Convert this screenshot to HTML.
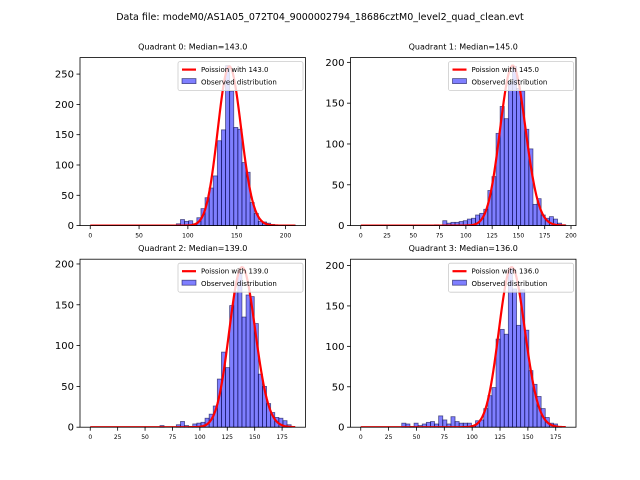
<!DOCTYPE html>
<html><head><meta charset="utf-8"><style>
body{margin:0;background:#fff}
svg{display:block;font-family:"DejaVu Sans","Liberation Sans",sans-serif}
</style></head><body>
<svg id="fig" width="640" height="480" viewBox="0 0 640 480">
<text x="320" y="20" text-anchor="middle" font-size="9.5">Data file: modeM0/AS1A05_072T04_9000002794_18686cztM0_level2_quad_clean.evt</text>
</svg>
<script>
// data
const quadMedians = [143.0, 145.0, 139.0, 136.0];
const quadDataMax = [210, 195, 187, 184];
const quadTotals = [1875, 1518, 1550, 1573];
const countsQ0 = [0,0,0,0,0,0,0,0,0,0,0,0,0,0,0,0,0,1,0,1,0,3,10,7,8,3,13,28,46,62,82,140,158,264,222,162,159,104,88,38,20,7,6,4,2,1,1,1,1,1];
const countsQ1 = [0,0,0,0,0,0,0,0,0,0,0,0,0,0,0,0,0,0,1,0,6,3,4,4,5,6,8,9,13,15,20,43,60,113,146,131,176,195,168,165,118,94,26,33,13,9,11,8,3,1];
const countsQ2 = [0,0,0,0,0,0,0,0,0,0,0,0,0,0,0,0,0,2,0,0,0,3,7,2,1,4,5,6,11,16,26,59,92,73,149,166,190,135,162,160,127,65,50,29,18,12,11,8,3,0];
const countsQ3 = [0,0,0,0,0,0,0,0,0,0,5,4,1,5,2,4,6,7,4,14,9,4,13,7,5,5,5,2,8,9,23,39,49,109,121,115,197,171,126,170,120,70,53,38,23,12,5,4,1,0];
const quadCounts = [countsQ0, countsQ1, countsQ2, countsQ3];
const yTicksQ0 = [0,50,100,150,200,250];
const yTicksOther = [0,50,100,150,200];
const xTicksQ0 = [0,50,100,150,200];
const xTicksQ1 = [0,25,50,75,100,125,150,175,200];
const xTicksQ23 = [0,25,50,75,100,125,150,175];
const quadXTicks = [xTicksQ0, xTicksQ1, xTicksQ23, xTicksQ23];
const quadYTicks = [yTicksQ0, yTicksOther, yTicksOther, yTicksOther];

const NS = "http://www.w3.org/2000/svg";
const svg = document.getElementById('fig');
function mk(tag, attrs, parent){
  const e = document.createElementNS(NS, tag);
  for (const k in attrs) e.setAttribute(k, attrs[k]);
  (parent||svg).appendChild(e);
  return e;
}
const boxes = [[80,57.6,225.5,168],[350.5,57.6,225.5,168],[80,259.2,225.5,168],[350.5,259.2,225.5,168]];

function logFact(n){let s=0;for(let i=2;i<=n;i++)s+=Math.log(i);return s;}

for (let q=0;q<4;q++){
  const [L,T,W,H] = boxes[q];
  const counts = quadCounts[q];
  const M = quadDataMax[q], mu = quadMedians[q], nb = counts.length, bw = M/nb;
  const xmin = -0.05*M, xmax = 1.05*M;
  const pts = [];
  for (let k=0;k<=Math.round(M);k++){
    const p = Math.exp(k*Math.log(mu) - mu - logFact(k));
    pts.push([k, p*quadTotals[q]*bw]);
  }
  const peak = Math.max(Math.max(...counts), Math.max(...pts.map(p=>p[1])));
  const ymax = 1.05*peak;
  const sx = v => L + (v - xmin)/(xmax - xmin)*W;
  const sy = v => T + H - v/ymax*H;
  const g = mk('g', {});
  
  
  const clipId = 'clip'+q;
  const cp = mk('clipPath',{id:clipId},g);
  mk('rect',{x:L,y:T,width:W,height:H},cp);
  for (let i=0;i<nb;i++){
    if (counts[i] <= 0) continue;
    const x0 = sx(i*bw), x1 = sx((i+1)*bw);
    const r = mk('rect',{x:x0,y:sy(counts[i]),width:x1-x0,height:sy(0)-sy(counts[i]),fill:'rgba(0,0,255,0.5)',stroke:'rgba(0,0,60,0.6)','stroke-width':0.8},g);
    
    
  }
  const d = pts.map((p,i)=>(i?'L':'M')+sx(p[0]).toFixed(2)+','+sy(p[1]).toFixed(2)).join('');
  const path = mk('path',{d:d,fill:'none',stroke:'#ff0000','stroke-width':2.2,'clip-path':'url(#'+clipId+')'},g);
  
  
  const sp = mk('rect',{x:L,y:T,width:W,height:H,fill:'none',stroke:'#000','stroke-width':0.8},g);
  
  
  for (const t of quadXTicks[q]){
    const x = sx(t);
    mk('line',{x1:x,x2:x,y1:T+H,y2:T+H+3.5,stroke:'#000','stroke-width':0.8},g);
    const tx = mk('text',{x:x,y:T+H+12,'text-anchor':'middle','font-size':6},g);
    tx.textContent = t;
    
    
  }
  for (const t of quadYTicks[q]){
    const y = sy(t);
    mk('line',{x1:L-3.5,x2:L,y1:y,y2:y,stroke:'#000','stroke-width':0.8},g);
    const ty = mk('text',{x:L-6,y:y+3.5,'text-anchor':'end','font-size':10},g);
    ty.textContent = t;
    
    
  }
  const tt = mk('text',{x:L+W/2,y:T-8,'text-anchor':'middle','font-size':8},g);
  tt.textContent = 'Quadrant ' + q + ': Median=' + mu.toFixed(1);
  
  
  const lg = mk('g',{},g);
  
  
  const lx = L+W-127.5, ly = T+4;
  mk('rect',{x:lx,y:ly,width:125,height:29,rx:2,fill:'rgba(255,255,255,0.8)',stroke:'#cccccc','stroke-width':0.8},lg);
  mk('line',{x1:lx+4,x2:lx+18,y1:ly+8,y2:ly+8,stroke:'#ff0000','stroke-width':2.2},lg);
  const l1 = mk('text',{x:lx+23,y:ly+10.5,'font-size':7},lg);
  l1.textContent = 'Poission with ' + mu.toFixed(1);
  
  
  mk('rect',{x:lx+4,y:ly+17,width:14,height:5,fill:'rgba(0,0,255,0.5)',stroke:'rgba(0,0,60,0.6)','stroke-width':0.8},lg);
  const l2 = mk('text',{x:lx+23,y:ly+23,'font-size':7},lg);
  l2.textContent = 'Observed distribution';
  
  
}
</script>
</body></html>
